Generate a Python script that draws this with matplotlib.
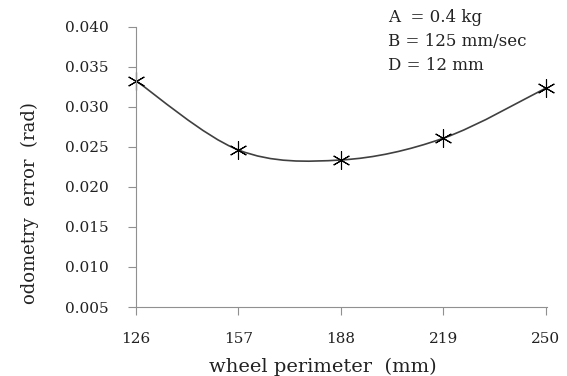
import numpy as np
import matplotlib
matplotlib.use('Agg')
import matplotlib.pyplot as plt
from matplotlib.path import Path
from matplotlib.patches import PathPatch

perimeter = [126, 157, 188, 219, 250]
odo_error = [0.03325, 0.02462, 0.02337, 0.02608, 0.03233]
y_ticks = [0.005, 0.010, 0.015, 0.020, 0.025, 0.030, 0.035, 0.040]
notes = ['A  = 0.4 kg', 'B = 125 mm/sec', 'D = 12 mm']


def smooth_path(xs, ys, t=1.0 / 6):
    # excel-like smoothed line: cubic bezier through each point
    xs = np.asarray(xs, float)
    ys = np.asarray(ys, float)
    n = len(xs)
    verts = [(xs[0], ys[0])]
    codes = [Path.MOVETO]
    for i in range(n - 1):
        p0 = (xs[max(i - 1, 0)], ys[max(i - 1, 0)])
        p1 = (xs[i], ys[i])
        p2 = (xs[i + 1], ys[i + 1])
        p3 = (xs[min(i + 2, n - 1)], ys[min(i + 2, n - 1)])
        c1 = (p1[0] + (p2[0] - p0[0]) * t, p1[1] + (p2[1] - p0[1]) * t)
        c2 = (p2[0] - (p3[0] - p1[0]) * t, p2[1] - (p3[1] - p1[1]) * t)
        verts += [c1, c2, p2]
        codes += [Path.CURVE4] * 3
    return Path(verts, codes)


plt.rcParams['font.family'] = ['DejaVu Serif']
fig = plt.figure(figsize=(5.67, 3.76), dpi=100)
ax = fig.add_axes([0.240, 0.1835, 0.725, 0.745])

ax.add_patch(PathPatch(smooth_path(perimeter, odo_error), fill=False,
                       edgecolor='#404040', lw=1.2))
ax.plot(perimeter, odo_error, ls='none', marker=(6, 2, 0), ms=13,
        mec='black', mew=0.8, clip_on=False)

ax.set_xlim(126, 250.5)
ax.set_ylim(0.005, 0.040)
ax.set_xticks(perimeter)
ax.set_yticks(y_ticks)
ax.set_yticklabels(['%.3f' % v for v in y_ticks])
for s in ['top', 'right']:
    ax.spines[s].set_visible(False)
for s in ['left', 'bottom']:
    ax.spines[s].set_color('#909090')
ax.tick_params(axis='both', colors='#909090', labelcolor='#222222',
               labelsize=11, length=6, direction='out')
ax.tick_params(axis='x', pad=12)
ax.tick_params(axis='y', pad=14)

ax.set_xlabel('wheel perimeter  (mm)', fontsize=14, color='#222222', va='center')
ax.xaxis.set_label_coords(0.455, -0.214)
ax.set_ylabel('odometry  error  (rad)', fontsize=13, color='#222222', va='center')
ax.yaxis.set_label_coords(-0.258, 0.37)

for i, txt in enumerate(notes):
    fig.text(388 / 567, 1 - (18 + 24 * i) / 376, txt, fontsize=12,
             color='#222222', va='center', ha='left')

fig.savefig('out.png', dpi=100)
